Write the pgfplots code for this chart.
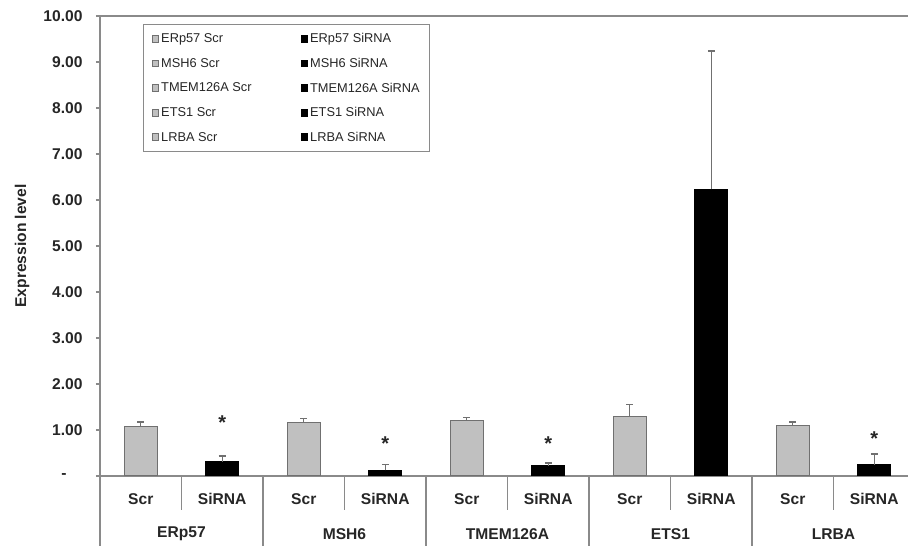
\documentclass[border=0pt]{standalone}
\usepackage{pgfplots}
\pgfplotsset{compat=1.18}
\usepackage{fontspec}
\setmainfont{Liberation Sans}
\definecolor{barg}{HTML}{C0C0C0}
\definecolor{edgeg}{HTML}{707070}
\definecolor{axg}{HTML}{8A8A8A}
\definecolor{txt}{HTML}{262626}
\tikzset{lab/.style={font=\fontsize{15.6pt}{18pt}\selectfont\bfseries, text=txt}}
\begin{document}
\begin{tikzpicture}
\useasboundingbox (-100pt,-70pt) rectangle (808pt,476pt);
\begin{axis}[
  at={(0,0)}, anchor=south west,
  scale only axis, width=815pt, height=460pt,
  xmin=-0.5, xmax=9.5, ymin=0, ymax=10,
  clip=false,
  axis x line*=bottom, axis y line*=left,
  axis line style={axg, line width=1.3pt},
  x axis line style={-}, y axis line style={-},
  xtick=\empty,
  ytick={0,1,...,10},
  yticklabels={-\rule{16pt}{0pt},1.00,2.00,3.00,4.00,5.00,6.00,7.00,8.00,9.00,10.00},
  tick align=outside, major tick length=4pt,
  ytick style={axg, line width=1.2pt},
  yticklabel style={font=\fontsize{15.6pt}{18pt}\selectfont\bfseries, text=txt, xshift=-10pt},
  ylabel={Expression level},
  every axis y label/.style={at={(rel axis cs:0,0.5)}, xshift=-78pt, rotate=90, anchor=center, font=\fontsize{15.6pt}{18pt}\selectfont\bfseries, text=txt},
  legend columns=2,
  legend cell align=left,
  legend style={at={(rel axis cs:0.0528,0.9826)}, anchor=north west,
    draw=axg, line width=1.2pt, fill=white,
    font=\fontsize{12.8pt}{15pt}\selectfont, text=txt,
    row sep=9.8pt, inner xsep=8pt, inner ysep=7pt,
    /tikz/every even column/.append style={column sep=47pt}},
  scr/.style={ybar, bar width=33pt, bar shift=0pt, fill=barg, draw=edgeg, line width=1pt,
    error bars/.cd, y dir=plus, y explicit,
    error bar style={edgeg, line width=1.3pt},
    error mark options={rotate=90, mark size=3.5pt, edgeg, line width=1.5pt}},
  sirna/.style={ybar, bar width=33pt, bar shift=0pt, fill=black, draw=black, line width=1pt,
    error bars/.cd, y dir=plus, y explicit,
    error bar style={edgeg, line width=1.3pt},
    error mark options={rotate=90, mark size=3.5pt, edgeg, line width=1.5pt}},
  legend image code/.code={\draw[#1, line width=1pt, solid] (0pt,-3.3pt) rectangle (6.6pt,3.3pt);},
]
\addplot[scr] coordinates {(0,1.08) +- (0,0.09)};
\addlegendentry{ERp57 Scr}
\addplot[sirna] coordinates {(1,0.31) +- (0,0.12)};
\addlegendentry{ERp57 SiRNA}
\addplot[scr] coordinates {(2,1.17) +- (0,0.08)};
\addlegendentry{MSH6 Scr}
\addplot[sirna] coordinates {(3,0.12) +- (0,0.13)};
\addlegendentry{MSH6 SiRNA}
\addplot[scr] coordinates {(4,1.20) +- (0,0.07)};
\addlegendentry{TMEM126A Scr}
\addplot[sirna] coordinates {(5,0.22) +- (0,0.06)};
\addlegendentry{TMEM126A SiRNA}
\addplot[scr] coordinates {(6,1.29) +- (0,0.26)};
\addlegendentry{ETS1 Scr}
\addplot[sirna] coordinates {(7,6.23) +- (0,3.01)};
\addlegendentry{ETS1 SiRNA}
\addplot[scr] coordinates {(8,1.10) +- (0,0.07)};
\addlegendentry{LRBA Scr}
\addplot[sirna] coordinates {(9,0.24) +- (0,0.24)};
\addlegendentry{LRBA SiRNA}
% significance stars
\addplot[forget plot, draw=none, mark=none,
  nodes near coords={\textbf{*}},
  every node near coord/.style={anchor=base, font=\fontsize{20pt}{22pt}\selectfont, text=txt}]
  coordinates {(1,1.0) (3,0.56) (5,0.56) (9,0.66)};
% top line
\draw[axg, line width=1.3pt] (axis cs:-0.5,10) -- (axis cs:9.5,10);
% category dividers
\pgfplotsinvokeforeach{0.5,2.5,4.5,6.5,8.5}{
  \draw[axg, line width=1.3pt] (axis cs:#1,0) -- ([yshift=-34pt]axis cs:#1,0);
}
\pgfplotsinvokeforeach{-0.5,1.5,3.5,5.5,7.5,9.5}{
  \draw[axg, line width=1.3pt] (axis cs:#1,0) -- ([yshift=-72pt]axis cs:#1,0);
}
\pgfplotsinvokeforeach{0,2,4,6,8}{
  \node[lab] at ([yshift=-23pt]axis cs:#1,0) {Scr};
}
\pgfplotsinvokeforeach{1,3,5,7,9}{
  \node[lab] at ([yshift=-23pt]axis cs:#1,0) {SiRNA};
}
\node[lab] at ([yshift=-58pt]axis cs:0.5,0) {ERp57};
\node[lab] at ([yshift=-58pt]axis cs:2.5,0) {MSH6};
\node[lab] at ([yshift=-58pt]axis cs:4.5,0) {TMEM126A};
\node[lab] at ([yshift=-58pt]axis cs:6.5,0) {ETS1};
\node[lab] at ([yshift=-58pt]axis cs:8.5,0) {LRBA};
\end{axis}
\end{tikzpicture}
\end{document}
